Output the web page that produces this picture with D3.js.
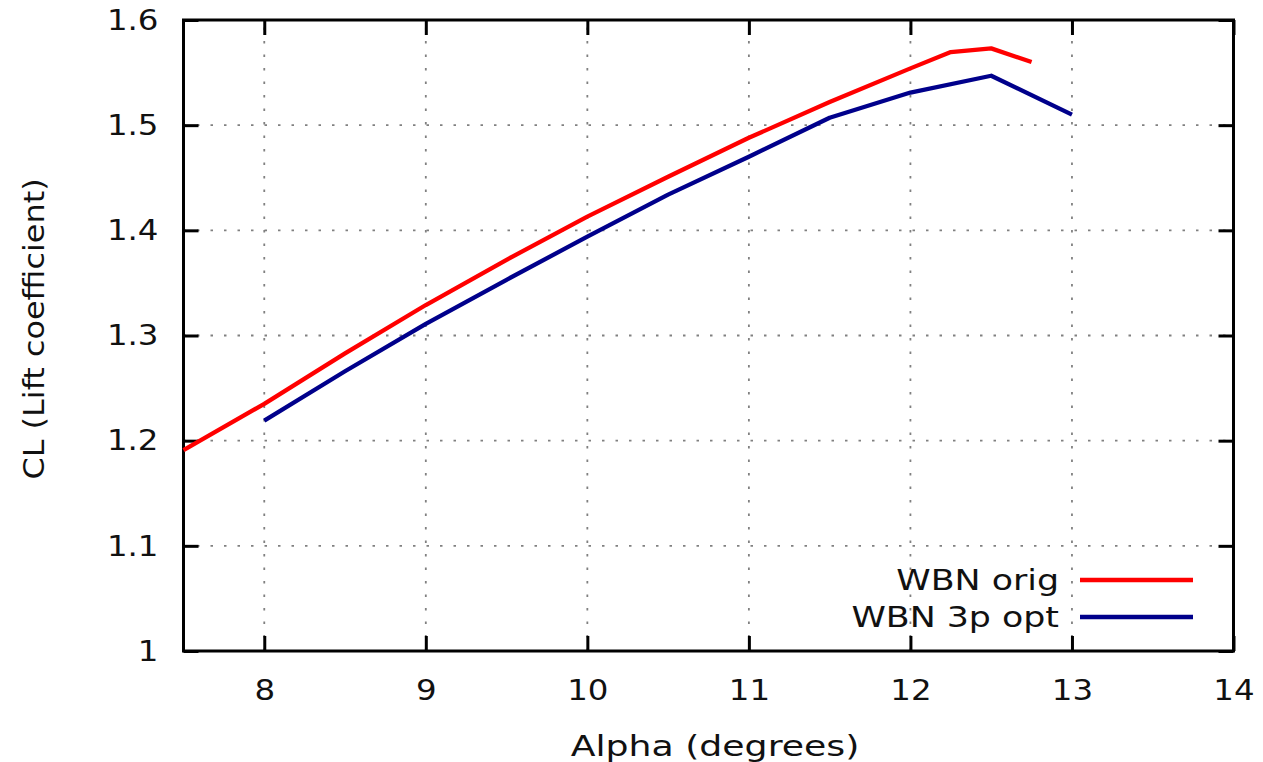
<!DOCTYPE html>
<html>
<head>
<meta charset="utf-8">
<script src="https://cdn.jsdelivr.net/npm/d3@7"></script>
<style>
  html, body { margin: 0; padding: 0; background: #fff; }
  svg { display: block; font-family: "DejaVu Sans", Verdana, sans-serif; }
</style>
</head>
<body>
<svg id="chart" width="1263" height="762"></svg>
<script>
// Angle of attack (degrees) and lift coefficient for each configuration
const alphaOrig = [7.5, 8, 8.5, 9, 9.5, 10, 10.5, 11, 11.5, 12, 12.25, 12.5, 12.75];
const clOrig    = [1.191, 1.235, 1.283, 1.329, 1.372, 1.413, 1.451, 1.488, 1.522, 1.554, 1.5695, 1.573, 1.560];

const alphaOpt = [8, 8.5, 9, 9.5, 10, 10.5, 11, 11.5, 12, 12.5, 13];
const clOpt    = [1.219, 1.266, 1.311, 1.353, 1.394, 1.434, 1.470, 1.507, 1.531, 1.547, 1.510];

const seriesNames = ["WBN orig", "WBN 3p opt"];
const seriesColors = ["#ff0000", "#00008b"];

const xTicks = [8, 9, 10, 11, 12, 13, 14];
const yTicks = [1, 1.1, 1.2, 1.3, 1.4, 1.5, 1.6];

const xLabel = "Alpha (degrees)";
const yLabel = "CL (Lift coefficient)";

const svg = d3.select("#chart");
const plotLeft = 183.5, plotRight = 1233.5, plotTop = 20, plotBottom = 651;

const x = d3.scaleLinear().domain([7.5, 14]).range([plotLeft, plotRight]);
const y = d3.scaleLinear().domain([1, 1.6]).range([plotBottom, plotTop]);

// widen a text element along its baseline, keeping its anchor point fixed
function stretch(sel, sx) {
  sel.each(function () {
    const t = d3.select(this);
    const ax = +t.attr("x") || 0, ay = +t.attr("y") || 0;
    const prev = t.attr("transform") || "";
    t.attr("transform", `${prev} translate(${ax},${ay}) scale(${sx},1) translate(${-ax},${-ay})`);
  });
}

// dotted grid
const grid = svg.append("g")
  .attr("stroke", "#808080")
  .attr("stroke-width", 1.8)
  .attr("stroke-dasharray", "2.5,11");
xTicks.filter(t => t < 14).forEach(t => {
  grid.append("line")
    .attr("x1", x(t)).attr("x2", x(t))
    .attr("y1", plotBottom).attr("y2", plotTop);
});
yTicks.filter(t => t > 1 && t < 1.6).forEach(t => {
  grid.append("line")
    .attr("x1", plotLeft).attr("x2", plotRight)
    .attr("y1", y(t)).attr("y2", y(t));
});

// axes: ticks on all sides, labels on bottom and left
const tickLen = 15;
const xAxis = svg.append("g")
  .attr("transform", `translate(0,${plotBottom})`)
  .call(d3.axisBottom(x).tickValues(xTicks).tickSizeInner(-tickLen).tickSizeOuter(0).tickPadding(28).tickFormat(d3.format("d")));
const yAxis = svg.append("g")
  .attr("transform", `translate(${plotLeft},0)`)
  .call(d3.axisLeft(y).tickValues(yTicks).tickSizeInner(-tickLen).tickSizeOuter(0).tickPadding(25)
    .tickFormat(d => d === 1 ? "1" : d3.format(".1f")(d)));
const xAxisTop = svg.append("g")
  .attr("transform", `translate(0,${plotTop})`)
  .call(d3.axisTop(x).tickValues(xTicks).tickSizeInner(-tickLen).tickSizeOuter(0).tickFormat(""));
const yAxisRight = svg.append("g")
  .attr("transform", `translate(${plotRight},0)`)
  .call(d3.axisRight(y).tickValues(yTicks).tickSizeInner(-tickLen).tickSizeOuter(0).tickFormat(""));

[xAxis, yAxis, xAxisTop, yAxisRight].forEach(g => {
  g.select(".domain").remove();
  g.selectAll(".tick line").attr("stroke", "#000").attr("stroke-width", 3);
  g.selectAll("text")
    .attr("fill", "#111")
    .attr("font-size", 29)
    .attr("font-family", "DejaVu Sans, sans-serif");
});
stretch(xAxis.selectAll("text"), 1.12);
stretch(yAxis.selectAll("text"), 1.12);

// frame
svg.append("rect")
  .attr("x", plotLeft).attr("y", plotTop)
  .attr("width", plotRight - plotLeft).attr("height", plotBottom - plotTop)
  .attr("fill", "none").attr("stroke", "#000").attr("stroke-width", 3);

// axis titles
svg.append("text")
  .attr("x", 715).attr("y", 756)
  .attr("text-anchor", "middle")
  .attr("font-size", 29)
  .attr("fill", "#111")
  .text(xLabel)
  .call(stretch, 1.25);
svg.append("text")
  .attr("transform", `translate(44,329) rotate(-90) scale(1.1,1)`)
  .attr("text-anchor", "middle")
  .attr("font-size", 29)
  .attr("fill", "#111")
  .text(yLabel);

// curves
const line = d3.line().x(d => x(d[0])).y(d => y(d[1]));
const seriesData = [
  d3.zip(alphaOrig, clOrig),
  d3.zip(alphaOpt, clOpt)
];
seriesData.forEach((data, i) => {
  svg.append("path")
    .datum(data)
    .attr("d", line)
    .attr("fill", "none")
    .attr("stroke", seriesColors[i])
    .attr("stroke-width", 4.3)
    .attr("stroke-linejoin", "round");
});

// legend
const legendY = [580, 617];
seriesNames.forEach((name, i) => {
  svg.append("text")
    .attr("x", 1059).attr("y", legendY[i] + 10)
    .attr("text-anchor", "end")
    .attr("font-size", 29)
    .attr("fill", "#111")
    .text(name)
    .call(stretch, 1.2);
  svg.append("line")
    .attr("x1", 1080).attr("x2", 1193)
    .attr("y1", legendY[i]).attr("y2", legendY[i])
    .attr("stroke", seriesColors[i])
    .attr("stroke-width", 4.3);
});
</script>
</body>
</html>
